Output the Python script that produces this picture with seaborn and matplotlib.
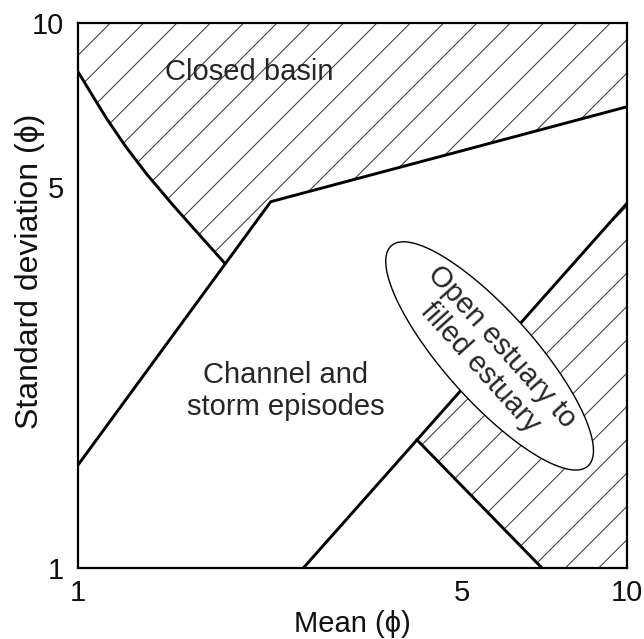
import numpy as np
import pandas as pd
import matplotlib
matplotlib.use("Agg")
import matplotlib.pyplot as plt
from matplotlib.ticker import FixedLocator, FixedFormatter, NullLocator
import seaborn as sns

# ---- data ----
basin_x = [1.0, 1.059, 1.128, 1.218, 1.334, 1.492, 1.668, 1.852]
basin_y = [8.14, 7.40, 6.675, 5.957, 5.28, 4.623, 4.074, 3.621]
upper_x = [1.0, 2.244, 10.0]
upper_y = [1.545, 4.70, 7.02]
lower_x = [2.573, 10.0]
lower_y = [1.0, 4.67]
split_x = [4.14, 7.0]
split_y = [1.72, 1.0]
tick_values = [1, 2, 3, 4, 5, 6, 7, 8, 9, 10]
tick_labels = ["1", "", "", "", "5", "", "", "", "", "10"]
ell_center = (5.62, 2.45)      # data coords
ell_semi = (0.27, 0.082)       # semi-axes in decades
ell_angle = -48.5              # degrees

sns.set_theme(style="white")
plt.rcParams["font.family"] = ["Liberation Sans", "DejaVu Sans"]
plt.rcParams["hatch.linewidth"] = 0.75
FS = 21

fig = plt.figure(figsize=(6.44, 6.39), dpi=100)
ax = fig.add_axes([78 / 644, 1 - 568 / 639, 549 / 644, 545 / 639])
ax.set_xscale("log")
ax.set_yscale("log")
ax.set_xlim(1, 10)
ax.set_ylim(1, 10)

# hatched regions
bx = basin_x + [upper_x[1], upper_x[2], 10, 1]
by = basin_y + [upper_y[1], upper_y[2], 10, 10]
ax.fill(bx, by, facecolor="none", edgecolor="#3a3a3a", linewidth=0, hatch="/", zorder=1)
ex = [split_x[0], lower_x[1], 10, split_x[1]]
ey = [split_y[0], lower_y[1], 1, split_y[1]]
ax.fill(ex, ey, facecolor="none", edgecolor="#3a3a3a", linewidth=0, hatch="/", zorder=1)

# boundary lines
lw = 2.1
for xs, ys in [(basin_x, basin_y), (upper_x, upper_y), (lower_x, lower_y), (split_x, split_y)]:
    sns.lineplot(x=xs, y=ys, sort=False, estimator=None, color="black",
                 linewidth=lw, ax=ax, zorder=2)

# ellipse
t = np.linspace(0, 2 * np.pi, 400)
th = np.deg2rad(ell_angle)
u = ell_semi[0] * np.cos(t)
v = ell_semi[1] * np.sin(t)
lx = np.log10(ell_center[0]) + u * np.cos(th) - v * np.sin(th)
ly = np.log10(ell_center[1]) + u * np.sin(th) + v * np.cos(th)
ax.fill(10 ** lx, 10 ** ly, facecolor="white", edgecolor="black", linewidth=1.0, zorder=3)

# texts
ax.text(2.049, 8.13, "Closed basin", fontsize=FS, ha="center", va="center", zorder=4)
ax.text(2.388, 2.113, "Channel and\nstorm episodes", fontsize=FS, ha="center",
        va="center", linespacing=1.15, zorder=4)
ax.text(5.654, 2.439, "Open estuary to\nfilled estuary", fontsize=FS, ha="center",
        va="center", rotation=-48, rotation_mode="anchor", linespacing=1.1, zorder=4)

# axes styling
for s in ax.spines.values():
    s.set_linewidth(1.6)
    s.set_color("black")
ax.xaxis.set_major_locator(FixedLocator(tick_values))
ax.xaxis.set_major_formatter(FixedFormatter(tick_labels))
ax.yaxis.set_major_locator(FixedLocator(tick_values))
ax.yaxis.set_major_formatter(FixedFormatter(tick_labels))
ax.xaxis.set_minor_locator(NullLocator())
ax.yaxis.set_minor_locator(NullLocator())
ax.tick_params(axis="both", which="major", direction="out", length=7, width=1.5,
               color="black", labelsize=FS, labelcolor="#111111")
ax.tick_params(axis="x", pad=1)
ax.tick_params(axis="y", pad=3)
ax.set_xlabel("Mean (\u03d5)", fontsize=FS, color="#111111")
ax.set_ylabel("Standard deviation (\u03d5)", fontsize=23, color="#111111")
ax.xaxis.set_label_coords(0.5, -0.077)
ax.yaxis.set_label_coords(-0.060, 0.545)

fig.savefig("out.png", dpi=100)
